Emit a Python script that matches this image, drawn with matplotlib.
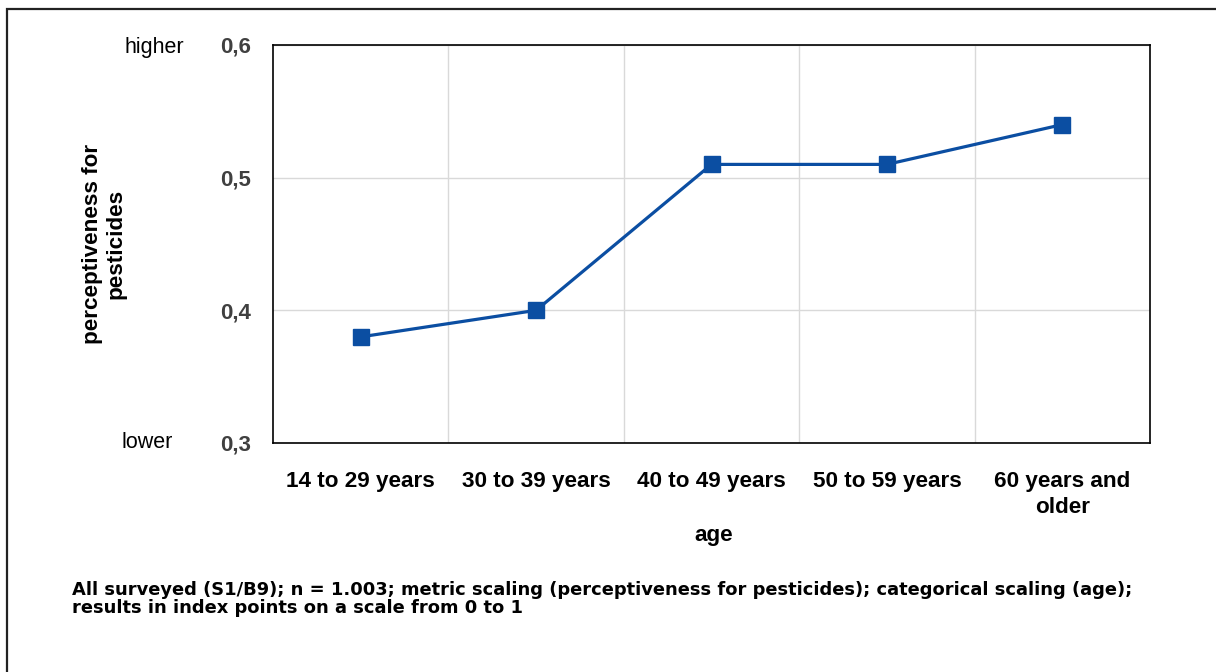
import matplotlib.pyplot as plt
from matplotlib.patches import Rectangle
from matplotlib.ticker import FixedLocator

categories = ['14 to 29 years', '30 to 39 years', '40 to 49 years', '50 to 59 years', '60 years and\nolder']
values = [0.38, 0.40, 0.51, 0.51, 0.54]
yticks = [0.3, 0.4, 0.5, 0.6]
ytick_labels = ['0,3', '0,4', '0,5', '0,6']

plt.rcParams['font.family'] = ['Liberation Sans', 'DejaVu Sans']

fig = plt.figure(figsize=(12.16, 6.72), dpi=100)
W, H = 1216, 672
ax = fig.add_axes([273 / W, 1 - 443 / H, (1150 - 273) / W, (443 - 45) / H])

x = list(range(len(categories)))
ax.plot(x, values, color='#0B4EA2', lw=2.3, marker='s', markersize=11, zorder=3)

ax.set_xlim(-0.5, len(categories) - 0.5)
ax.set_ylim(0.3, 0.6)
ax.set_yticks(yticks)
ax.set_yticklabels(ytick_labels, fontsize=16, fontweight='bold', color='#404040')
ax.set_xticks(x)
ax.set_xticklabels(categories, fontsize=16.2, fontweight='bold', linespacing=1.35)
ax.tick_params(length=0, pad=20)
ax.tick_params(axis='y', pad=16)
ax.xaxis.set_minor_locator(FixedLocator([i + 0.5 for i in range(len(categories) - 1)]))
ax.grid(True, which='minor', axis='x', color='#d9d9d9', lw=1)
ax.grid(True, which='major', axis='y', color='#d9d9d9', lw=1)
ax.tick_params(which='minor', length=0)
for s in ax.spines.values():
    s.set_linewidth(1.2)
    s.set_color('black')

fig.text(714 / W, 1 - 535 / H, 'age', fontsize=16.2, fontweight='bold', ha='center', va='center')

fig.text(104 / W, 1 - 244 / H, 'perceptiveness for\npesticides', rotation=90, fontsize=16.2,
         fontweight='bold', ha='center', va='center', linespacing=1.15)
fig.text(184 / W, 1 - 48 / H, 'higher', fontsize=15.5, ha='right', va='center')
fig.text(173 / W, 1 - 443 / H, 'lower', fontsize=15.5, ha='right', va='center')

fig.text(72 / W, 1 - 599 / H,
         'All surveyed (S1/B9); n = 1.003; metric scaling (perceptiveness for pesticides); categorical scaling (age);\n'
         'results in index points on a scale from 0 to 1',
         fontsize=12.9, fontweight='bold', ha='left', va='center', linespacing=1.0,
         family=['DejaVu Sans'])

fig.patches.append(Rectangle((7 / W, -0.1), 1.2, 1 - 9 / H + 0.1, transform=fig.transFigure,
                             fill=False, edgecolor='#222222', lw=1.6))

fig.savefig('out.png', dpi=100)
